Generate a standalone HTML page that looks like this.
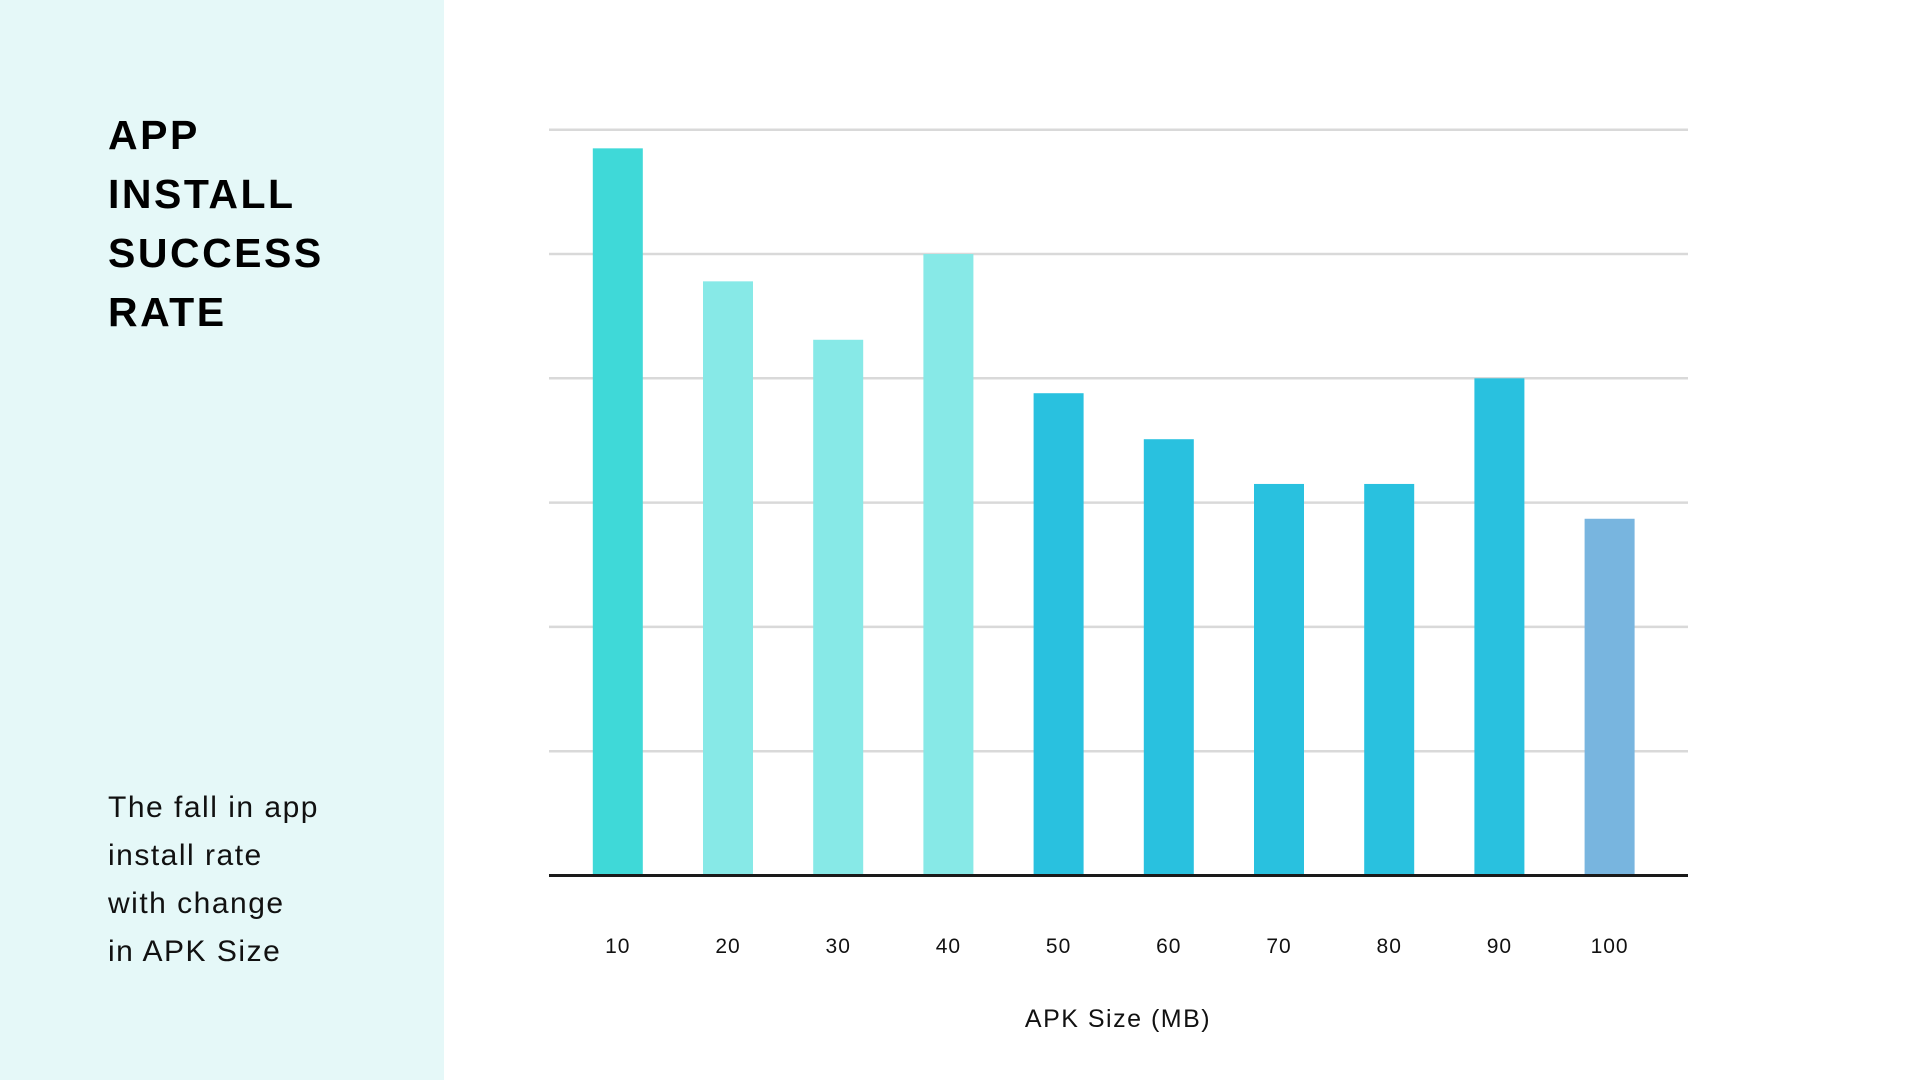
<!DOCTYPE html>
<html><head><meta charset="utf-8"><style>
html,body{margin:0;padding:0;width:1920px;height:1080px;overflow:hidden;background:#fff;font-family:"Liberation Sans",sans-serif}
#panel{position:absolute;left:0;top:0;width:444px;height:1080px;background:#e5f8f8}
#title{position:absolute;left:108px;top:106px;font-weight:bold;font-size:41px;line-height:59px;letter-spacing:2.5px;color:#000}
#sub{position:absolute;left:108px;top:784px;font-size:30px;line-height:48px;letter-spacing:1.5px;color:#111}
svg{position:absolute;left:0;top:0}
</style></head><body>
<div id="panel"></div>
<div id="title">APP<br>INSTALL<br>SUCCESS<br>RATE</div>
<div id="sub">The fall in app<br>install rate<br>with change<br>in APK Size</div>
<svg id="chart" width="1920" height="1080"></svg>
<script>
const categories=["10","20","30","40","50","60","70","80","90","100"];
const values=[5.85,4.78,4.31,5.0,3.88,3.51,3.15,3.15,4.0,2.87];
const colors=["#3fd9d8","#87e9e7","#87e9e7","#87e9e7","#29c1df","#29c1df","#29c1df","#29c1df","#29c1df","#78b5df"];
const gridValues=[1,2,3,4,5,6];
const NS="http://www.w3.org/2000/svg";
const svg=document.getElementById('chart');
const X0=549,X1=1688,BASE=875.5,STEP=124.3;
function y(v){return BASE-v*STEP;}
function xc(i){return 617.8+i*110.2;}
const BW=50;
function mk(t,a){const e=document.createElementNS(NS,t);for(const k in a)e.setAttribute(k,a[k]);svg.appendChild(e);return e;}
gridValues.forEach(g=>{
 const l=mk('line',{x1:X0,x2:X1,y1:y(g),y2:y(g),stroke:'#d9d9d9','stroke-width':2.5});
 
 
});
values.forEach((v,i)=>{
 const r=mk('rect',{x:xc(i)-BW/2,y:y(v),width:BW,height:BASE-y(v),fill:colors[i]});
 
 
 const t=mk('text',{x:xc(i),y:953,'text-anchor':'middle','font-size':21,'letter-spacing':1,fill:'#111','font-family':'Liberation Sans, sans-serif'});
 t.textContent=categories[i];
 
 
});
const b=mk('line',{x1:X0,x2:X1,y1:BASE,y2:BASE,stroke:'#1a1a1a','stroke-width':3});


const at=mk('text',{x:1118,y:1027,'text-anchor':'middle','font-size':25,'letter-spacing':1.5,fill:'#111','font-family':'Liberation Sans, sans-serif'});
at.textContent='APK Size (MB)';


</script>
</body></html>
